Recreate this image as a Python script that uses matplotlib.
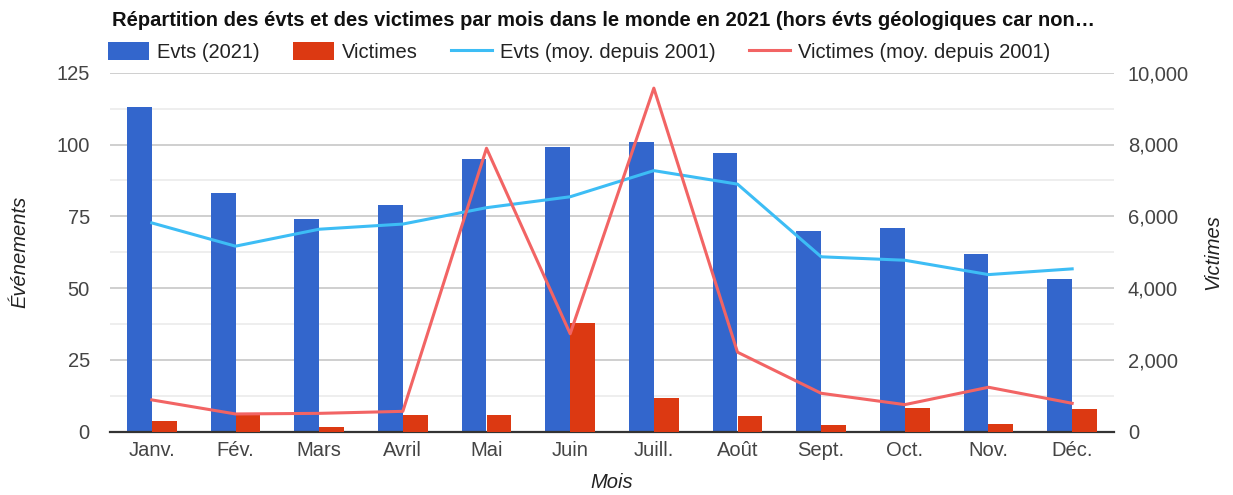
import numpy as np
import matplotlib
matplotlib.use("Agg")
import matplotlib.pyplot as plt
from matplotlib.patches import Patch
from matplotlib.lines import Line2D

plt.rcParams["font.family"] = ["Liberation Sans", "DejaVu Sans"]

# Data
mois = ["Janv.", "Fév.", "Mars", "Avril", "Mai", "Juin",
        "Juill.", "Août", "Sept.", "Oct.", "Nov.", "Déc."]
evts_2021 = [113, 83, 74, 79, 95, 99, 101, 97, 70, 71, 62, 53]
victimes_2021 = [310, 475, 140, 475, 475, 3020, 930, 450, 190, 670, 225, 620]
evts_moy = [72.7, 64.6, 70.5, 72.3, 78.0, 81.8, 90.9, 86.2, 60.9, 59.7, 54.7, 56.7]
victimes_moy = [886, 494, 511, 567, 7895, 2728, 9570, 2215, 1070, 754, 1238, 791]

blue = "#3366cc"
red = "#dc3912"
lblue = "#3dbdf5"
pink = "#f26464"
grey = "#444444"
fs = 14.5

fig = plt.figure(figsize=(12.33, 4.95), dpi=100)
ax1 = fig.add_axes([110 / 1233, 1 - 431.7 / 495, 1004 / 1233, (431.7 - 72.7) / 495])
ax2 = ax1.twinx()

x = np.arange(len(mois))
w = 0.295

ax1.bar(x - w / 2, evts_2021, width=w, color=blue, zorder=2)
ax1.plot(x, evts_moy, color=lblue, lw=2.2, zorder=3)
ax2.bar(x + w / 2, victimes_2021, width=w, color=red, zorder=2)
ax2.plot(x, victimes_moy, color=pink, lw=2.2, zorder=3)

ax1.set_xlim(-0.5, 11.5)
ax1.set_ylim(0, 125)
ax2.set_ylim(0, 10000)
ax1.set_yticks([0, 25, 50, 75, 100, 125])
ax1.set_yticks(np.arange(12.5, 125, 25), minor=True)
ax2.set_yticks([0, 2000, 4000, 6000, 8000, 10000])
ax2.set_yticklabels(["0", "2,000", "4,000", "6,000", "8,000", "10,000"])
ax1.set_xticks(x)
ax1.set_xticklabels(mois)

ax1.grid(axis="y", which="major", color="#cccccc", lw=1.3, zorder=0)
ax1.grid(axis="y", which="minor", color="#ebebeb", lw=1.2, zorder=0)
ax1.set_axisbelow(True)

for ax in (ax1, ax2):
    for s in ["top", "left", "right"]:
        ax.spines[s].set_visible(False)
    ax.spines["bottom"].set_color("#333333")
    ax.spines["bottom"].set_linewidth(1.6)
    ax.tick_params(which="both", length=0, labelsize=fs, labelcolor=grey)
ax2.spines["bottom"].set_visible(False)
ax2.patch.set_visible(False)
ax1.tick_params(axis="y", pad=14.5)
ax2.tick_params(axis="y", pad=10)
ax1.tick_params(axis="x", pad=7)

ax1.set_ylabel("Événements", fontsize=fs, style="italic", color="#222222", va="center")
ax1.yaxis.set_label_coords((20 - 110) / 1004, 0.5)
ax2.set_ylabel("Victimes", fontsize=fs, style="italic", color="#222222", rotation=90, va="center")
ax2.yaxis.set_label_coords((1213 - 110) / 1004, 0.5)
ax1.set_xlabel("Mois", fontsize=fs, style="italic", color="#222222", va="center")
ax1.xaxis.set_label_coords(0.5, (431.7 - 483) / 359)

fig.text(112 / 1233, 1 - 21 / 495,
         "Répartition des évts et des victimes par mois dans le monde en 2021 (hors évts géologiques car non…",
         fontsize=fs, fontweight="bold", color="#111111", va="center", ha="left")

handles = [
    Patch(facecolor=blue, edgecolor="none"),
    Patch(facecolor=red, edgecolor="none"),
    Line2D([0], [0], color=lblue, lw=2.2),
    Line2D([0], [0], color=pink, lw=2.2),
]
labels = ["Evts (2021)", "Victimes", "Evts (moy. depuis 2001)", "Victimes (moy. depuis 2001)"]
fig.legend(handles, labels, loc="center left", bbox_to_anchor=(108 / 1233, 1 - 52 / 495),
           ncol=4, frameon=False, fontsize=fs, handlelength=2.04, handleheight=1.0,
           handletextpad=0.4, columnspacing=1.64, labelcolor="#222222", borderaxespad=0,
           borderpad=0)

fig.savefig("out.png", dpi=100)
